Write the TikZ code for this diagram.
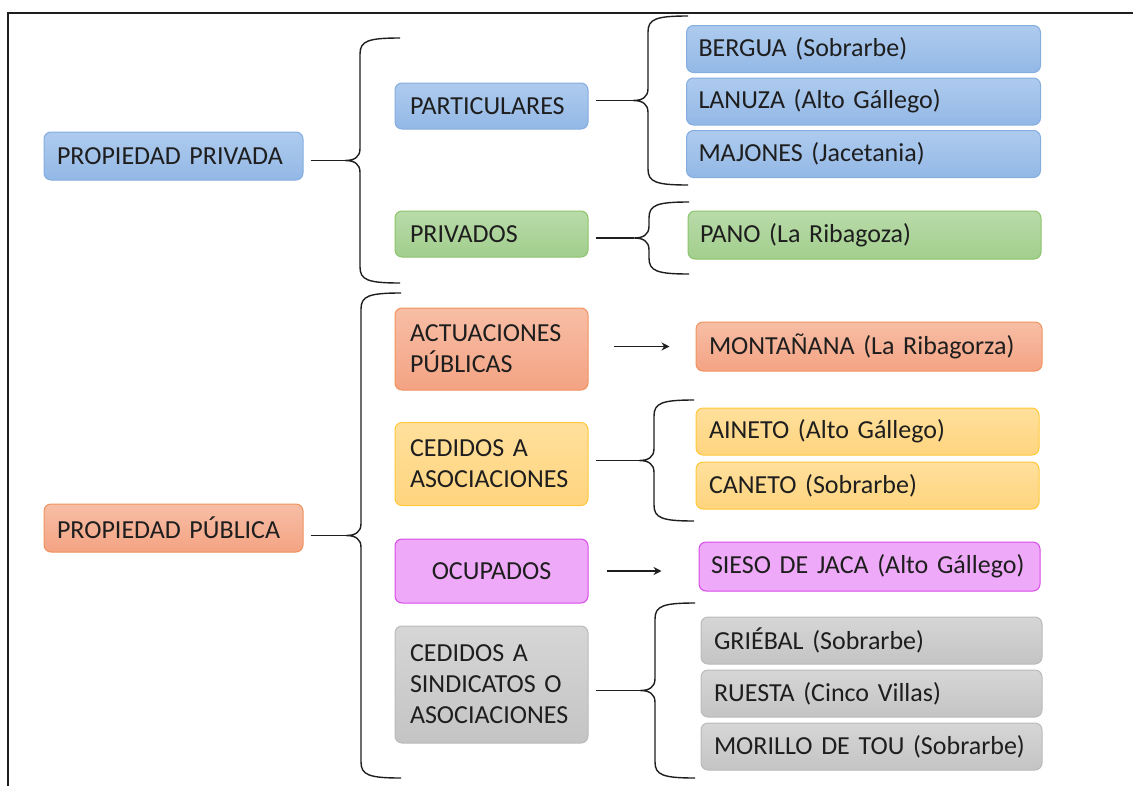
\documentclass[tikz,border=0pt]{standalone}
\usepackage{fontspec}
\setmainfont{Carlito}
\usetikzlibrary{positioning, arrows.meta}

\definecolor{blueT}{HTML}{AECBEE}
\definecolor{blueB}{HTML}{93B8E6}
\definecolor{blueD}{HTML}{84ADE0}
\definecolor{greenT}{HTML}{B9DBA9}
\definecolor{greenB}{HTML}{A2CE8D}
\definecolor{greenD}{HTML}{8CC46C}
\definecolor{orangeT}{HTML}{F7BEA6}
\definecolor{orangeB}{HTML}{F4A383}
\definecolor{orangeD}{HTML}{F0935F}
\definecolor{yellowT}{HTML}{FFE09C}
\definecolor{yellowB}{HTML}{FFD47E}
\definecolor{yellowD}{HTML}{FFC83A}
\definecolor{magentaF}{HTML}{EEA9F8}
\definecolor{magentaD}{HTML}{D84AEA}
\definecolor{grayT}{HTML}{D6D6D6}
\definecolor{grayB}{HTML}{C4C4C4}
\definecolor{grayD}{HTML}{BABABA}
\definecolor{inkgray}{HTML}{1E1E1E}

\tikzset{
  box/.style={rounded corners=7pt, line width=1pt, inner ysep=0pt,
    font=\fontsize{26}{31}\selectfont, text=inkgray, align=left},
  lvlone/.style={box, inner xsep=13pt, text width=233pt, minimum height=48pt},
  lvltwo/.style={box, inner xsep=15pt, text width=163pt},
  lvlthree/.style={box, inner xsep=12pt, minimum height=47pt},
  bluebox/.style={top color=blueT, bottom color=blueB, draw=blueD},
  greenbox/.style={top color=greenT, bottom color=greenB, draw=greenD},
  orangebox/.style={top color=orangeT, bottom color=orangeB, draw=orangeD},
  yellowbox/.style={top color=yellowT, bottom color=yellowB, draw=yellowD},
  magentabox/.style={fill=magentaF, draw=magentaD},
  graybox/.style={top color=grayT, bottom color=grayB, draw=grayD},
  brace line/.style={line width=1.4pt, draw=inkgray},
  link/.style={line width=1.4pt, draw=inkgray, shorten <=7pt},
  pointer/.style={->, >={Stealth[length=8pt, width=8pt]}, line width=1.5pt, draw=inkgray},
}

\begin{document}
\begin{tikzpicture}[x=1pt, y=-1pt]
  \useasboundingbox (0,0) rectangle (1133,785);

  % frame
  \draw[line width=1.5pt, inkgray] (1136,13) -- (8,13) -- (8,788);

  % first level
  \node[lvlone, bluebox] (privada) at (173.5,156) {PROPIEDAD PRIVADA};
  \node[lvlone, orangebox] (publica) at (173.5,528) {PROPIEDAD PÚBLICA};

  % second level
  \node[lvltwo, bluebox, minimum height=46pt] (particulares) at (491.5,106) {PARTICULARES};
  \node[lvltwo, greenbox, minimum height=46pt] (privados) at (491.5,234) {PRIVADOS};
  \node[lvltwo, orangebox, minimum height=82pt] (actuaciones) at (491.5,349) {ACTUACIONES\\PÚBLICAS};
  \node[lvltwo, yellowbox, minimum height=83pt] (cedidos) at (491.5,464) {CEDIDOS A\\ASOCIACIONES};
  \node[lvltwo, magentabox, minimum height=64pt, align=center] (ocupados) at (491.5,571) {OCUPADOS};
  \node[lvltwo, graybox, minimum height=117pt] (sindicatos) at (491.5,684.5) {CEDIDOS A\\SINDICATOS O\\ASOCIACIONES};

  % third level
  \node[lvlthree, bluebox, text width=330pt] (bergua) at (863.5,49) {BERGUA (Sobrarbe)};
  \node[lvlthree, bluebox, text width=330pt, below=4.5pt of bergua] (lanuza) {LANUZA (Alto Gállego)};
  \node[lvlthree, bluebox, text width=330pt, below=4.5pt of lanuza] (majones) {MAJONES (Jacetania)};
  \node[lvlthree, greenbox, text width=329pt, minimum height=48pt] (pano) at (864.5,235) {PANO (La Ribagoza)};
  \node[lvlthree, orangebox, text width=320pt, inner xsep=13pt, minimum height=49pt] (montanana) at (869,346.5) {MONTAÑANA (La Ribagorza)};
  \node[lvlthree, yellowbox, text width=317pt, inner xsep=13pt] (aineto) at (867.5,431.5) {AINETO (Alto Gállego)};
  \node[lvlthree, yellowbox, text width=317pt, inner xsep=13pt, below=6pt of aineto] (caneto) {CANETO (Sobrarbe)};
  \node[lvlthree, magentabox, text width=317pt, minimum height=49pt] (sieso) at (869.5,566.5) {SIESO DE JACA (Alto Gállego)};
  \node[lvlthree, graybox, text width=315pt, inner xsep=13pt] (griebal) at (871.5,640.5) {GRIÉBAL (Sobrarbe)};
  \node[lvlthree, graybox, text width=315pt, inner xsep=13pt, below=5pt of griebal] (ruesta) {RUESTA (Cinco Villas)};
  \node[lvlthree, graybox, text width=315pt, inner xsep=13pt, below=5pt of ruesta] (morillo) {MORILLO DE TOU (Sobrarbe)};

  % braces, the tip of each one is a named coordinate
  \foreach \nm/\x/\yt/\yb in {tipprivada/360/38/283, tippublica/361/293/778,
      tipparticulares/648/16/185, tipprivados/649/202/274,
      tipcedidos/654/400/521, tipsindicatos/655/603/778}
  {
    \pgfmathsetmacro\ym{(\yt+\yb)/2}
    \coordinate (\nm) at ({\x-15},\ym);
    \draw[brace line] ({\x+40},\yt) .. controls ({\x+8},\yt) and (\x,{\yt+3}) .. (\x,{\yt+16})
      -- (\x,{\ym-12}) .. controls (\x,{\ym-3}) and ({\x-6},\ym) .. (\nm)
      .. controls ({\x-6},\ym) and (\x,{\ym+3}) .. (\x,{\ym+12})
      -- (\x,{\yb-16}) .. controls (\x,{\yb-3}) and ({\x+8},\yb) .. ({\x+40},\yb);
  }

  % links to the braces
  \draw[link] (privada.east |- tipprivada) -- (tipprivada);
  \draw[link] (publica.east |- tippublica) -- (tippublica);
  \draw[link] (particulares.east |- tipparticulares) -- (tipparticulares);
  \draw[link] (privados.east |- tipprivados) -- (tipprivados);
  \draw[link] (cedidos.east |- tipcedidos) -- (tipcedidos);
  \draw[link] (sindicatos.east |- tipsindicatos) -- (tipsindicatos);

  % arrows
  \draw[pointer, shorten <=25pt, shorten >=26pt] (actuaciones.east |- montanana.west) -- (montanana.west);
  \draw[pointer, shorten <=18pt, shorten >=37pt] (ocupados.east) -- (ocupados.east -| sieso.west);
\end{tikzpicture}
\end{document}
